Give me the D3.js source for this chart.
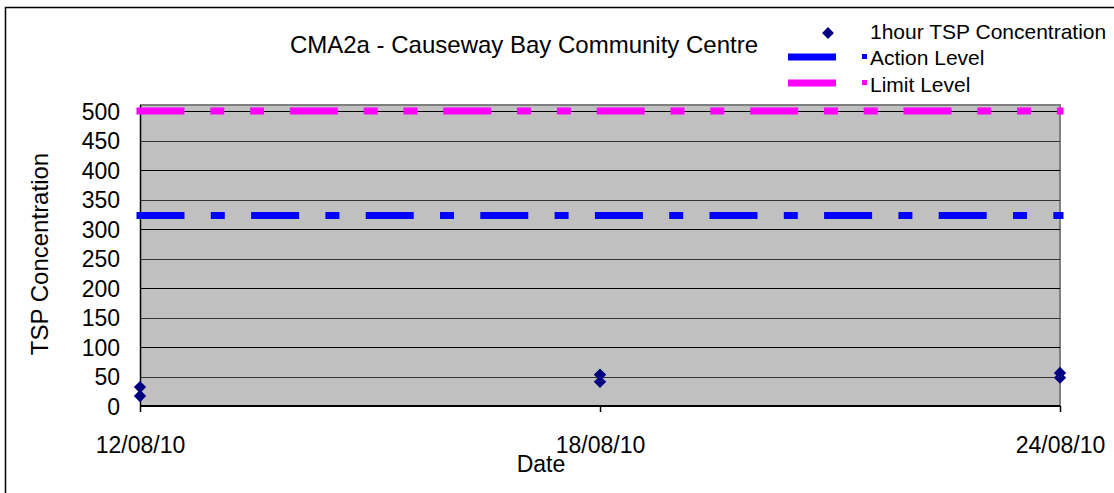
<!DOCTYPE html>
<html>
<head>
<meta charset="utf-8">
<script src="https://cdn.jsdelivr.net/npm/d3@7"></script>
<style>
body { margin: 0; background: #fff; }
text { font-family: "Liberation Sans", Arial, sans-serif; fill: #000; }
</style>
</head>
<body>
<div id="graph"></div>
<script>
const width = 1114
const height = 493

// data
var dates = ["2010-08-12", "2010-08-12", "2010-08-18", "2010-08-18", "2010-08-24", "2010-08-24"];
var tsp = [32, 17, 53, 41, 56, 48];
var actionLevel = 323;
var limitLevel = 500;
var xTicks = ["2010-08-12", "2010-08-18", "2010-08-24"];
var yTicks = [0, 50, 100, 150, 200, 250, 300, 350, 400, 450, 500];
var legendNames = ["1hour TSP Concentration", "Action Level", "Limit Level"];

var parse = d3.utcParse("%Y-%m-%d");
var fmt = d3.utcFormat("%d/%m/%y");

var svg = d3.select("div#graph")
	.append("svg")
	.attr("width", width)
	.attr("height", height)

// outer frame
svg.append("rect")
	.attr("x", 5.5).attr("y", 7.5)
	.attr("width", 1130).attr("height", 520)
	.style("fill", "white")
	.style("stroke", "black")
	.style("stroke-width", "1.5px")

var x = d3.scaleUtc()
	.domain([parse("2010-08-12"), parse("2010-08-24")])
	.range([140, 1060])
var y = d3.scaleLinear()
	.domain([0, 500])
	.range([406, 111])

// plot area
svg.append("rect")
	.attr("x", 140).attr("y", y(510))
	.attr("width", 920).attr("height", y(0) - y(510))
	.style("fill", "#c0c0c0")
svg.append("path")
	.attr("d", "M140," + y(510) + "H1060V" + y(0))
	.style("fill", "none")
	.style("stroke", "#808080")
	.style("stroke-width", "2px")

// gridlines
svg.selectAll("line.grid").data(yTicks.slice(1)).enter().append("line")
	.attr("class", "grid")
	.attr("x1", 140).attr("x2", 1060)
	.attr("y1", d => Math.round(y(d)) + 0.5)
	.attr("y2", d => Math.round(y(d)) + 0.5)
	.style("stroke", d => (d % 100 == 0) ? "#000" : "#333")
	.style("stroke-width", "1px")

// axes
var yAxis = d3.axisLeft(y).tickValues(yTicks).tickSize(0).tickPadding(0)
svg.append("g")
	.attr("transform", "translate(140,0)")
	.call(yAxis)
	.call(g => g.select(".domain").remove())
	.selectAll("text")
	.attr("x", -20)
	.attr("dy", "0.36em")
	.style("font-size", "23px")
	.style("font-family", "Liberation Sans, Arial, sans-serif")
	.style("fill", "#000")
svg.append("line")
	.attr("x1", 140.5).attr("x2", 140.5)
	.attr("y1", y(510)).attr("y2", y(0))
	.style("stroke", "black").style("stroke-width", "1.5px")

var xAxis = d3.axisBottom(x).tickValues(xTicks.map(parse)).tickFormat(fmt).tickSize(6).tickPadding(25)
var gx = svg.append("g")
	.attr("transform", "translate(0," + y(0) + ")")
	.call(xAxis)
gx.select(".domain").style("stroke", "black").style("stroke-width", "2px")
	.attr("d", "M140,0H1060")
gx.selectAll("line").style("stroke", "black").style("stroke-width", "1.5px")
gx.selectAll("text")
	.attr("dy", "0.71em")
	.style("font-size", "23px")
	.style("font-family", "Liberation Sans, Arial, sans-serif")
	.style("fill", "#000")

// level lines (drawn a little past both ends, like the original)
var levelLine = (val, color, dash) => svg.append("line")
	.attr("x1", x.range()[0] - 3.5).attr("x2", x.range()[1] + 3.5)
	.attr("y1", y(val)).attr("y2", y(val))
	.style("stroke", color)
	.style("stroke-width", "7px")
	.style("stroke-dasharray", dash)
levelLine(limitLevel, "#ff00ff", "48 25.8 14 25.8 14 25.8")
levelLine(actionLevel, "#0000ff", "48 26.3 14 26.3")

// points
svg.selectAll("path.pt").data(tsp).enter().append("path")
	.attr("class", "pt")
	.attr("d", d3.symbol().type(d3.symbolSquare).size(76))
	.attr("transform", (d, i) => "translate(" + x(parse(dates[i])) + "," + y(d) + ") rotate(45)")
	.style("fill", "#000080")

// titles
svg.append("text")
	.attr("x", 524).attr("y", 53)
	.attr("text-anchor", "middle")
	.style("font-size", "24px")
	.text("CMA2a - Causeway Bay Community Centre")
svg.append("text")
	.attr("x", 541).attr("y", 472)
	.attr("text-anchor", "middle")
	.style("font-size", "23px")
	.text("Date")
svg.append("text")
	.attr("transform", "translate(48,254) rotate(-90)")
	.attr("text-anchor", "middle")
	.style("font-size", "24px")
	.text("TSP Concentration")

// legend
var lg = svg.append("g")
lg.append("path")
	.attr("d", d3.symbol().type(d3.symbolSquare).size(70))
	.attr("transform", "translate(828,33) rotate(45)")
	.style("fill", "#000080")
var legColors = ["#0000ff", "#ff00ff"];
var legY = [57, 83];
legColors.forEach((c, i) => {
	lg.append("line")
		.attr("x1", 788).attr("x2", 836)
		.attr("y1", legY[i]).attr("y2", legY[i])
		.style("stroke", c).style("stroke-width", "7px")
	lg.append("rect")
		.attr("x", 862).attr("y", legY[i] - 3)
		.attr("width", 5).attr("height", 5)
		.style("fill", c)
})
lg.selectAll("text").data(legendNames).enter().append("text")
	.attr("x", 870)
	.attr("y", (d, i) => [39, 65, 92][i])
	.style("font-size", "21px")
	.text(d => d)
</script>
</body>
</html>
